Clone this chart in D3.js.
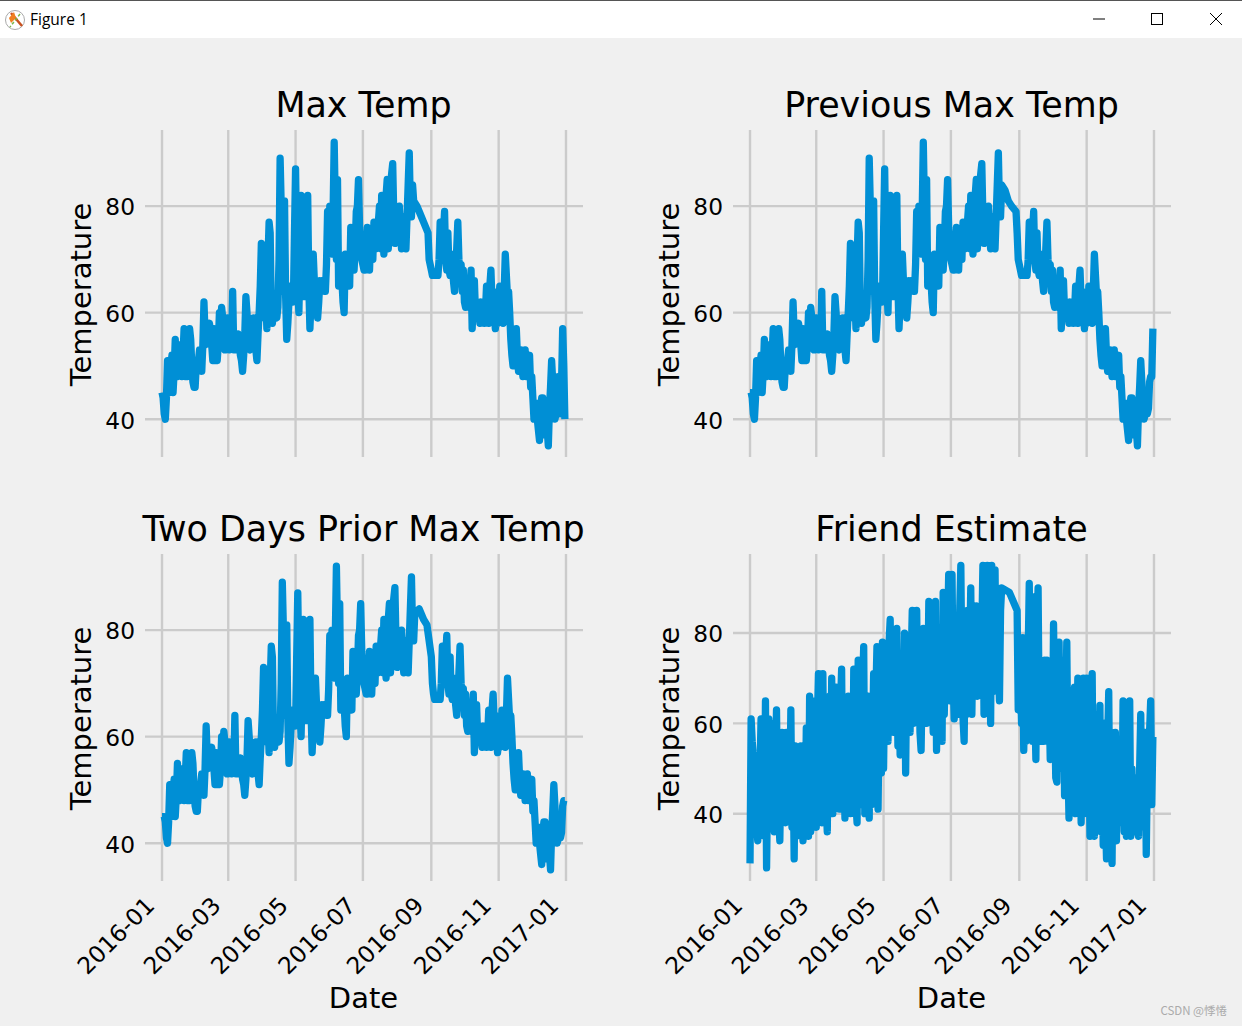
<!DOCTYPE html>
<meta charset="utf-8">
<style>
  html, body { margin: 0; padding: 0; background: #f0f0f0; overflow: hidden; }
  text { font-family: "DejaVu Sans", sans-serif; fill: #000; }
</style>

<!-- Load d3.js -->
<script src="https://d3js.org/d3.v7.min.js"></script>

<div id="figure"></div>

<script>

// one value per day of 2016, null where the csv has no row
var maxTemp = [
  45,44,41,40,44,51,45,48,50,52,45,49,55,49,48,54,50,54,48,52,57,48,52,48,50,57,55,50,47,46,46,
  50,49,51,53,50,49,54,62,56,54,55,57,58,56,54,51,57,51,53,51,54,60,55,61,59,56,53,57,59,
  55,53,58,54,64,53,54,55,53,56,55,52,51,49,52,56,63,60,56,54,53,55,57,59,55,53,51,56,60,65,73,
  68,62,59,63,57,70,77,75,60,58,60,63,60,59,61,70,89,80,72,64,81,63,55,58,62,65,64,63,62,75,
  87,72,65,60,70,82,70,66,63,72,75,82,65,57,62,67,71,66,62,65,59,62,66,65,66,65,64,64,69,79,71,
  80,75,71,79,92,80,70,85,65,65,68,66,62,60,71,68,70,66,65,76,72,76,68,72,79,80,85,76,72,70,
  69,68,68,72,76,72,68,74,72,70,77,76,72,75,77,80,72,82,76,71,75,82,85,72,80,84,86,88,78,73,76,
  74,78,80,76,72,76,78,74,72,78,84,90,80,78,84,81,null,null,80,null,79,null,null,null,77,null,null,null,75,70,69,
  68,67,67,67,67,67,67,70,77,72,70,75,79,70,68,75,68,67,71,69,66,64,68,72,77,70,67,69,64,68,
  62,61,66,62,61,64,68,57,62,66,60,62,60,61,58,62,61,62,58,60,65,60,58,65,68,62,64,60,57,60,58,
  60,65,60,62,58,64,71,67,63,64,60,55,52,50,55,53,57,52,49,51,53,50,48,51,53,48,50,49,52,46,
  48,44,40,41,43,40,38,36,42,44,44,41,37,42,38,35,42,46,51,47,42,40,41,44,48,44,41,47,57,50,40
];

var prevTemp = [
  45,45,44,41,40,44,51,45,48,50,52,45,49,55,49,48,54,50,54,48,52,57,48,52,48,50,57,55,50,47,46,
  46,50,49,51,53,50,49,54,62,56,54,55,57,58,56,54,51,57,51,53,51,54,60,55,61,59,56,53,57,
  59,55,53,58,54,64,53,54,55,53,56,55,52,51,49,52,56,63,60,56,54,53,55,57,59,55,53,51,56,60,65,
  73,68,62,59,63,57,70,77,75,60,58,60,63,60,59,61,70,89,80,72,64,81,63,55,58,62,65,64,63,62,
  75,87,72,65,60,70,82,70,66,63,72,75,82,65,57,62,67,71,66,62,65,59,62,66,65,66,65,64,64,69,79,
  71,80,75,71,79,92,80,70,85,65,65,68,66,62,60,71,68,70,66,65,76,72,76,68,72,79,80,85,76,72,
  70,69,68,68,72,76,72,68,74,72,70,77,76,72,75,77,80,72,82,76,71,75,82,85,72,80,84,86,88,78,73,
  76,74,78,80,76,72,76,78,74,72,78,84,90,80,78,84,null,null,83,null,null,81,null,null,80,null,null,null,79,75,70,
  69,68,67,67,67,67,67,67,70,77,72,70,75,79,70,68,75,68,67,71,69,66,64,68,72,77,70,67,69,64,
  68,62,61,66,62,61,64,68,57,62,66,60,62,60,61,58,62,61,62,58,60,65,60,58,65,68,62,64,60,57,60,
  58,60,65,60,62,58,64,71,67,63,64,60,55,52,50,55,53,57,52,49,51,53,50,48,51,53,48,50,49,52,
  46,48,44,40,41,43,40,38,36,42,44,44,41,37,42,38,35,42,46,51,47,42,40,41,42,41,42,47,48,48,57
];

var twoDaysTemp = [
  45,45,45,44,41,40,44,51,45,48,50,52,45,49,55,49,48,54,50,54,48,52,57,48,52,48,50,57,55,50,47,
  46,46,50,49,51,53,50,49,54,62,56,54,55,57,58,56,54,51,57,51,53,51,54,60,55,61,59,56,53,
  57,59,55,53,58,54,64,53,54,55,53,56,55,52,51,49,52,56,63,60,56,54,53,55,57,59,55,53,51,56,60,
  65,73,68,62,59,63,57,70,77,75,60,58,60,63,60,59,61,70,89,80,72,64,81,63,55,58,62,65,64,63,
  62,75,87,72,65,60,70,82,70,66,63,72,75,82,65,57,62,67,71,66,62,65,59,62,66,65,66,65,64,64,69,
  79,71,80,75,71,79,92,80,70,85,65,65,68,66,62,60,71,68,70,66,65,76,72,76,68,72,79,80,85,76,
  72,70,69,68,68,72,76,72,68,74,72,70,77,76,72,75,77,80,72,82,76,71,75,82,85,72,80,84,86,88,78,
  73,76,74,78,80,76,72,76,78,74,72,78,84,90,80,78,83,null,null,null,84,null,null,null,82,null,null,81,null,78,null,
  75,70,68,67,67,67,67,67,67,70,77,72,70,75,79,70,68,75,68,67,71,69,66,64,68,72,77,70,67,69,
  64,68,62,61,66,62,61,64,68,57,62,66,60,62,60,61,58,62,61,62,58,60,65,60,58,65,68,62,64,60,57,
  60,58,60,65,60,62,58,64,71,67,63,64,60,55,52,50,55,53,57,52,49,51,53,50,48,51,53,48,50,49,
  52,46,48,44,40,41,43,40,38,36,42,44,44,41,37,42,38,35,42,46,51,47,42,40,41,42,41,42,47,48,48
];

var friendTemp = [
  29,61,56,53,41,40,38,34,47,49,61,42,38,35,65,28,48,61,40,52,60,44,36,50,63,42,40,34,49,58,40,
  54,38,58,40,56,42,63,37,52,30,55,35,48,53,36,55,40,34,52,38,59,45,35,66,36,50,65,38,55,
  37,60,71,40,55,38,71,46,65,42,36,58,66,44,70,40,62,50,68,43,57,41,64,72,41,55,39,60,47,66,52,
  40,64,44,72,50,42,38,74,46,58,42,68,77,40,60,46,66,39,62,42,55,71,43,66,77,41,62,52,49,78,
  50,70,58,64,56,78,83,60,72,58,66,62,81,55,70,53,66,75,60,80,49,72,61,66,58,74,85,60,70,61,85,
  63,76,58,54,70,81,62,75,60,67,87,61,73,68,58,80,87,54,72,64,78,68,56,89,62,76,66,80,93,65,
  75,93,70,61,82,63,76,62,85,95,70,61,56,78,62,85,66,75,90,62,80,68,76,86,66,78,70,68,80,95,62,
  88,69,95,63,85,60,95,67,90,94,68,82,72,65,85,90,null,null,null,null,null,null,89,null,null,null,null,null,null,85,63,
  63,72,60,79,54,70,56,62,75,91,63,72,56,88,64,52,80,90,60,74,56,70,56,74,62,74,58,66,52,70,
  55,82,62,48,47,66,78,52,64,50,74,44,62,78,52,39,62,42,58,44,68,40,54,70,42,60,38,58,70,40,56,
  70,42,60,35,66,71,40,35,58,38,62,42,64,36,52,33,60,40,30,56,67,38,58,29,55,42,58,34,50,40,
  38,52,42,65,36,54,35,60,42,65,35,50,38,48,36,46,40,35,50,62,40,52,37,58,31,50,42,58,65,42,57
];

var panelTitles = ["Max Temp", "Previous Max Temp", "Two Days Prior Max Temp", "Friend Estimate"];
var panelSeries = [maxTemp, prevTemp, twoDaysTemp, friendTemp];
var yTicks = [40, 60, 80];
var xTicks = ["2016-01", "2016-03", "2016-05", "2016-07", "2016-09", "2016-11", "2017-01"];

var parseMonth = d3.utcParse("%Y-%m");
var days = d3.utcDay.range(new Date(Date.UTC(2016, 0, 1)), new Date(Date.UTC(2017, 0, 1)));

var blue = "#008fd5", gridColor = "#cbcbcb";

var width = 1242, height = 1026;
var plotW = 438, plotH = 327;
var lefts = [145, 733], tops = [130, 554];

var svg = d3.select("#figure")
  .append("svg")
    .attr("width", width)
    .attr("height", height)
    .style("display", "block");

// window title bar
svg.append("rect").attr("width", width).attr("height", 38).attr("fill", "#fff");
svg.append("rect").attr("width", width).attr("height", 1).attr("fill", "#555");
svg.append("text").attr("x", 30).attr("y", 25).style("font-family", "'Open Sans', sans-serif")
  .style("font-size", "15.5px").text("Figure 1");

var icon = svg.append("g").attr("transform", "translate(15,20)");
icon.append("circle").attr("r", 9.5).attr("fill", "#fff").attr("stroke", "#aaa");
icon.append("line").attr("x1", -4).attr("y1", -7).attr("x2", 7).attr("y2", 6)
  .attr("stroke", "#c8501e").attr("stroke-width", 2.5);
icon.append("path").attr("d", "M-6,-2L-1,-8L1,-2L-4,3Z").attr("fill", "#f08020");
icon.append("line").attr("x1", 5).attr("y1", -6).attr("x2", -5).attr("y2", 7)
  .attr("stroke", "#7ab648").attr("stroke-width", 1.5).attr("stroke-dasharray", "3,2");

svg.append("line").attr("x1", 1093).attr("x2", 1105).attr("y1", 19).attr("y2", 19)
  .attr("stroke", "#000");
svg.append("rect").attr("x", 1151.5).attr("y", 13.5).attr("width", 11).attr("height", 11)
  .attr("fill", "none").attr("stroke", "#000");
svg.append("path").attr("d", "M1210,13L1222,25M1222,13L1210,25").attr("fill", "none")
  .attr("stroke", "#000");

// watermark
svg.append("text").attr("x", 1227).attr("y", 1015).attr("text-anchor", "end")
  .style("font-family", "'Noto Sans CJK SC', sans-serif").style("font-size", "11.5px")
  .style("fill", "#aaa").text("CSDN @悸惓");

// A function that draws one subplot
function drawPanel(i) {
  var col = i % 2, row = Math.floor(i / 2);
  var isFriend = i == 3;

  var g = svg.append("g")
    .attr("transform", "translate(" + lefts[col] + "," + tops[row] + ")");

  var x = d3.scaleUtc()
    .domain([new Date(Date.UTC(2015, 11, 16, 14)), new Date(Date.UTC(2017, 0, 16, 10))])
    .range([0, plotW]);

  var y = d3.scaleLinear()
    .domain(isFriend ? [25.1, 97.5] : [32.9, 94.3])
    .range([plotH, 0]);

  // X axis, the ticks double as the grid
  var xAxis = g.append("g")
    .attr("transform", "translate(0," + plotH + ")")
    .call(d3.axisBottom(x)
      .offset(0)
      .tickValues(xTicks.map(parseMonth))
      .tickSize(plotH)
      .tickFormat(d3.utcFormat("%Y-%m")));
  xAxis.selectAll("line").attr("y1", 0).attr("y2", -plotH);
  xAxis.select(".domain").remove();
  xAxis.selectAll("line").attr("stroke", gridColor).attr("stroke-width", 2.4);
  if (row == 1) {
    xAxis.selectAll("text")
      .attr("y", 0).attr("dy", 0)
      .attr("transform", "translate(-6,26)rotate(-45)")
      .style("text-anchor", "end")
      .style("font-size", "23.3px");
  } else {
    xAxis.selectAll("text").remove();
  }

  // Y axis
  var yAxis = g.append("g")
    .call(d3.axisLeft(y).offset(0).tickValues(yTicks).tickSize(-plotW).tickPadding(10));
  yAxis.select(".domain").remove();
  yAxis.selectAll("line").attr("stroke", gridColor).attr("stroke-width", 2.4);
  yAxis.selectAll("text").attr("dy", "0.4em").style("font-size", "23.3px").style("font-family", "'DejaVu Sans'");

  var points = days
    .map(function(d, k) { return { date: d, value: panelSeries[i][k] }; })
    .filter(function(d) { return d.value !== null && d.value !== undefined; });

  g.append("path")
    .datum(points)
    .attr("fill", "none")
    .attr("stroke", blue)
    .attr("stroke-width", 7.3)
    .attr("stroke-linejoin", "round")
    .attr("d", d3.line()
      .x(function(d) { return x(d.date); })
      .y(function(d) { return y(d.value); }));

  // titles
  g.append("text")
    .attr("x", plotW / 2 - 0.5)
    .attr("y", -13)
    .attr("text-anchor", "middle")
    .style("font-size", "34.9px")
    .text(panelTitles[i]);

  g.append("text")
    .attr("transform", "translate(" + (-54) + "," + (plotH / 2 + 1) + ")rotate(-90)")
    .attr("text-anchor", "middle")
    .style("font-size", "29px")
    .text("Temperature");

  if (row == 1) {
    g.append("text")
      .attr("x", plotW / 2 - 0.5)
      .attr("y", plotH + 127)
      .attr("text-anchor", "middle")
      .style("font-size", "29px")
      .text("Date");
  }
}

panelTitles.forEach(function(t, i) { drawPanel(i); });

</script>
